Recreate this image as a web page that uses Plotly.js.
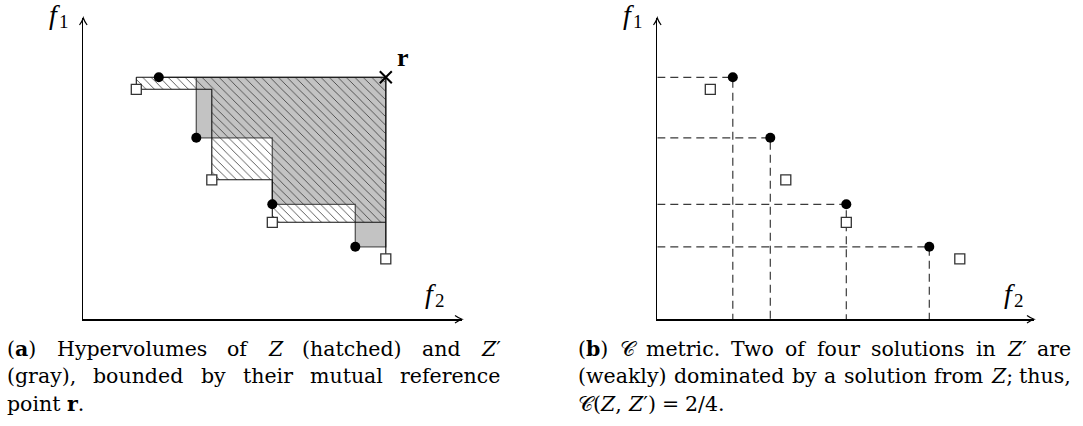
<!DOCTYPE html>
<html>
<head>
<meta charset="utf-8">
<script src="https://cdn.plot.ly/plotly-3.0.1.min.js"></script>
<style>
  html, body { margin: 0; padding: 0; background: #fff; }
  #chart { width: 1083px; height: 426px; }
</style>
</head>
<body>
<div id="chart"></div>
<script>
// Objective values of the two solution sets (f2 on the horizontal axis, f1 vertical).
// Z: open squares, Z': filled circles.
const zF2  = [5.3, 12.85, 18.9, 30.25];
const zF1  = [23.0, 13.95, 9.7, 6.05];
const zpF2 = [7.55, 11.3, 18.9, 27.2];
const zpF1 = [24.2, 18.15, 11.5, 7.25];
// Mutual reference point r
const refF2 = [30.25];
const refF1 = [24.2];

// Axis extents (origin at 0,0)
const f2Max = [37.87, 37.67];
const f1Max = 30.13;

// Caption text, one array per printed line
const captionA = [
  ['(<b>a</b>)', 'Hypervolumes', 'of', '<i>Z</i>', '(hatched)', 'and', '<i>Z</i>′'],
  ['(gray),', 'bounded', 'by', 'their', 'mutual', 'reference'],
  ['point', '<b>r</b>.']
];
const captionB = [
  ['(<b>b</b>)', '𝒞', 'metric.', 'Two', 'of', 'four', 'solutions', 'in', '<i>Z</i>′', 'are'],
  ['(weakly)', 'dominated', 'by', 'a', 'solution', 'from', '<i>Z</i>;', 'thus,'],
  ['𝒞(<i>Z</i>,', '<i>Z</i>′)', '=', '2/4.']
];

const W = 1083, H = 426;

// Staircase outline of the region dominated by a point set, bounded by r
function staircase(xs, ys, rx, ry) {
  const idx = xs.map((_, i) => i).sort((a, b) => xs[a] - xs[b]);
  const px = [xs[idx[0]]], py = [ry];
  idx.forEach((k, j) => {
    px.push(xs[k]); py.push(ys[k]);
    const nx = j < idx.length - 1 ? xs[idx[j + 1]] : rx;
    px.push(nx); py.push(ys[k]);
  });
  px.push(rx); py.push(ry);
  px.push(px[0]); py.push(py[0]);
  return { x: px, y: py };
}

const hvZ  = staircase(zF2, zF1, refF2[0], refF1[0]);
const hvZp = staircase(zpF2, zpF1, refF2[0], refF1[0]);

const traces = [];

// (a) gray hypervolume of Z'
traces.push({
  type: 'scatter', mode: 'lines', x: hvZp.x, y: hvZp.y, xaxis: 'x', yaxis: 'y',
  fill: 'toself', fillcolor: '#c3c3c3',
  line: { color: '#555', width: 1.3 }, hoverinfo: 'skip'
});
// (a) hatched hypervolume of Z
traces.push({
  type: 'scatter', mode: 'lines', x: hvZ.x, y: hvZ.y, xaxis: 'x', yaxis: 'y',
  fill: 'toself', fillcolor: 'rgba(0,0,0,0)',
  fillpattern: { shape: '\\', fgcolor: '#333', bgcolor: 'rgba(0,0,0,0)', size: 6, solidity: 0.13 },
  line: { color: '#111', width: 1.1 }, hoverinfo: 'skip'
});

// (b) dashed guides from each point of Z' to both axes
zpF2.forEach((v, i) => {
  traces.push({
    type: 'scatter', mode: 'lines', xaxis: 'x2', yaxis: 'y2',
    x: [0, v, v], y: [zpF1[i], zpF1[i], 0],
    line: { color: '#3a3a3a', width: 1.2, dash: '8px,5px' }, hoverinfo: 'skip'
  });
});

// Point markers in both panels
[['x', 'y'], ['x2', 'y2']].forEach(([xa, ya]) => {
  traces.push({
    type: 'scatter', mode: 'markers', x: zF2, y: zF1, xaxis: xa, yaxis: ya,
    marker: { symbol: 'square', size: 10, color: '#fff', line: { color: '#333', width: 1.3 } },
    cliponaxis: false, hoverinfo: 'skip'
  });
  traces.push({
    type: 'scatter', mode: 'markers', x: zpF2, y: zpF1, xaxis: xa, yaxis: ya,
    marker: { symbol: 'circle', size: 10, color: '#000' },
    cliponaxis: false, hoverinfo: 'skip'
  });
});
// Reference point
traces.push({
  type: 'scatter', mode: 'markers', x: refF2, y: refF1, xaxis: 'x', yaxis: 'y',
  marker: { symbol: 'x-thin', size: 12, line: { color: '#000', width: 2 } },
  cliponaxis: false, hoverinfo: 'skip'
});

const axisStyle = {
  showline: true, linecolor: '#000', linewidth: 1.2,
  showgrid: false, zeroline: false, ticks: '', showticklabels: false, fixedrange: true
};
const xDomains = [[83.3 / W, 462 / W], [657.3 / W, 1034 / W]];
const yDomain = [1 - 319.3 / H, 1 - 18 / H];

// Text measuring for justified captions
const ctx = document.createElement('canvas').getContext('2d');
function measure(word, size, family) {
  let w = 0, bold = false, ital = false;
  word.split(/(<\/?[bi]>)/).forEach(p => {
    if (p === '<b>') bold = true;
    else if (p === '</b>') bold = false;
    else if (p === '<i>') ital = true;
    else if (p === '</i>') ital = false;
    else if (p) {
      ctx.font = (ital ? 'italic ' : '') + (bold ? 'bold ' : '') + size + 'px ' + family;
      w += ctx.measureText(p).width;
    }
  });
  return w;
}
function justify(lines, left, width, baselines, size, family) {
  const anns = [];
  const space = measure(' ', size, family);
  lines.forEach((words, li) => {
    const widths = words.map(w => measure(w, size, family));
    const total = widths.reduce((a, b) => a + b, 0);
    const last = li === lines.length - 1;
    const gap = last ? space : (width - total) / (words.length - 1);
    let x = left;
    words.forEach((w, i) => {
      anns.push({
        xref: 'paper', yref: 'paper', x: x / W, y: 1 - (baselines[li] - 0.345 * size) / H,
        xanchor: 'left', yanchor: 'middle', text: w, showarrow: false, borderpad: 0, borderwidth: 0,
        font: { family: family, size: size, color: '#000' }
      });
      x += widths[i] + gap;
    });
  });
  return anns;
}

const capFamily = '"DejaVu Serif"';
const capSize = 20.5;
const baselines = [356, 383.5, 411.5];

const serif = 'Liberation Serif, serif';
function label(text, x, y, size, style) {
  return { xref: 'paper', yref: 'paper', x: x / W, y: 1 - y / H, xanchor: 'center', yanchor: 'middle',
           text: text, showarrow: false, borderpad: 0,
           font: { family: serif, size: size, color: '#000', style: style || 'normal' } };
}
// Axis name: italic f with an upright index
function axisName(idx, fx, fBaseline) {
  return [
    label('f', fx, fBaseline - 9.5, 28, 'italic'),
    label(String(idx), fx + 10, fBaseline + 4 - 6.4, 19)
  ];
}

// Open arrowheads at the ends of the axes (paper coordinates)
function headPath(tx, ty, dir) {
  const L = 7, S = 3.8, q = 3;
  const pts = dir === 'right'
    ? [[-L, -S], [-q, -1], [0, 0], [-q, 1], [-L, S]]
    : [[-S, L], [-1, q], [0, 0], [1, q], [S, L]];
  const P = pts.map(([dx, dy]) => [tx + dx / W, ty - dy / H]);
  return 'M' + P[0].join(',') + ' Q' + P[1].join(',') + ' ' + P[2].join(',') +
         ' Q' + P[3].join(',') + ' ' + P[4].join(',');
}
const shapes = [];
xDomains.forEach(d => {
  shapes.push({ type: 'path', xref: 'paper', yref: 'paper', path: headPath(d[1], yDomain[0], 'right'),
                line: { color: '#000', width: 1.2 }, fillcolor: 'rgba(0,0,0,0)' });
  shapes.push({ type: 'path', xref: 'paper', yref: 'paper', path: headPath(d[0], yDomain[1], 'up'),
                line: { color: '#000', width: 1.2 }, fillcolor: 'rgba(0,0,0,0)' });
});

const annotations = [].concat(
  axisName(1, 54, 24),
  axisName(2, 430, 303),
  axisName(1, 628, 24),
  axisName(2, 1009, 303),
  [{ xref: 'paper', yref: 'paper', x: 403 / W, y: 1 - 57 / H, xanchor: 'center', yanchor: 'middle',
     text: '<b>r</b>', showarrow: false, borderpad: 0, font: { family: serif, size: 26, color: '#000' } }],
  justify(captionA, 7, 493, baselines, capSize, capFamily),
  justify(captionB, 578, 493, baselines, capSize, capFamily)
);

const layout = {
  width: W, height: H,
  margin: { l: 0, r: 0, t: 0, b: 0 },
  paper_bgcolor: '#fff', plot_bgcolor: 'rgba(0,0,0,0)',
  showlegend: false,
  xaxis:  Object.assign({ domain: xDomains[0], range: [0, f2Max[0]], anchor: 'y' }, axisStyle),
  yaxis:  Object.assign({ domain: yDomain, range: [0, f1Max], anchor: 'x' }, axisStyle),
  xaxis2: Object.assign({ domain: xDomains[1], range: [0, f2Max[1]], anchor: 'y2' }, axisStyle),
  yaxis2: Object.assign({ domain: yDomain, range: [0, f1Max], anchor: 'x2' }, axisStyle),
  shapes: shapes,
  annotations: annotations
};

Plotly.newPlot('chart', traces, layout, { staticPlot: true, displayModeBar: false });
</script>
</body>
</html>
